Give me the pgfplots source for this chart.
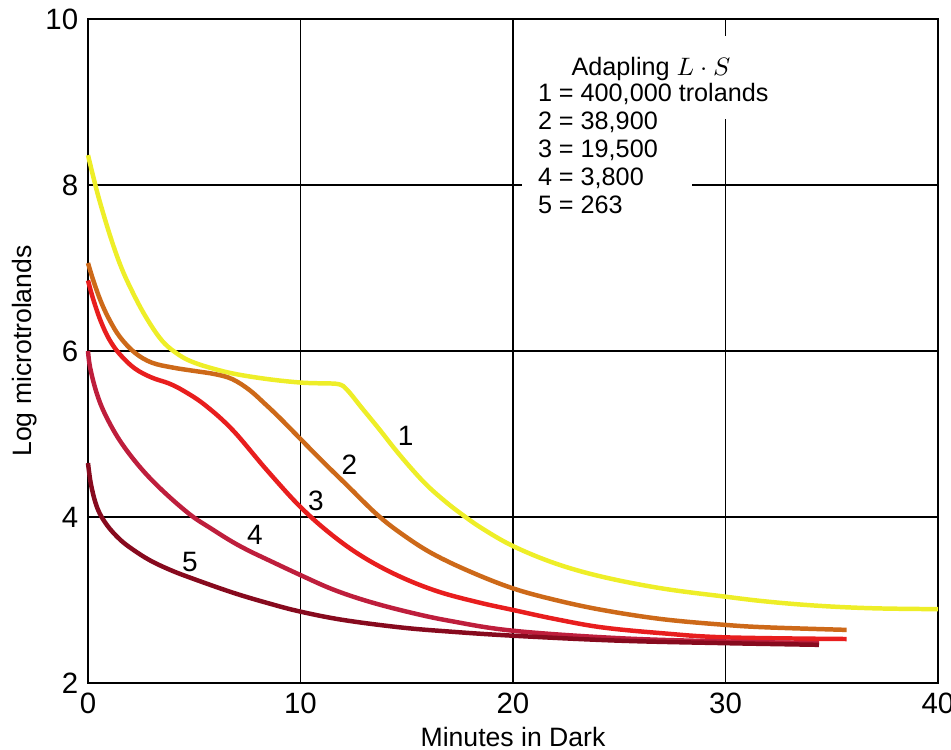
\documentclass[border=0pt]{standalone}
\usepackage{fontspec}
\setmainfont{Liberation Sans}
\usepackage{pgfplots}
\pgfplotsset{compat=1.18}
\definecolor{c1}{RGB}{238,238,40}
\definecolor{c2}{RGB}{205,105,25}
\definecolor{c3}{RGB}{232,30,30}
\definecolor{c4}{RGB}{190,30,60}
\definecolor{c5}{RGB}{135,10,30}
\begin{document}
\begin{tikzpicture}
\useasboundingbox (-31.43pt,-23.57pt) rectangle (308.21pt,243.93pt);
\begin{axis}[
  at={(0,0)}, anchor=south west,
  scale only axis, width=303.57pt, height=237.14pt,
  xmin=0, xmax=40, ymin=2, ymax=10,
  xtick={0,10,20,30,40}, ytick={2,4,6,8,10},
  major tick length=0pt,
  grid=major, grid style={black, line width=0.65pt},
  axis line style={black, line width=0.9pt},
  /pgf/number format/assume math mode=true,
  tick label style={font=\fontsize{10.5}{12}\selectfont},
  xlabel={Minutes in Dark}, ylabel={Log microtrolands},
  label style={font=\fontsize{9.5}{11}\selectfont},
  xlabel style={yshift=2pt},
  ylabel style={yshift=-4pt},
  clip=false,
]
\fill[white] (axis cs:20.4,7.75) rectangle (axis cs:28.4,9.8);
\fill[white] (axis cs:28.4,8.8) rectangle (axis cs:32.8,9.8);
\node[anchor=north west, align=left, inner sep=0pt, font=\fontsize{9}{10}\selectfont] at (axis cs:21.15,9.55)
 {\hspace*{12pt}Adapling $L\cdot S$\\[-0.5pt] 1 = 400,000 trolands\\ 2 = 38,900\\ 3 = 19,500\\ 4 = 3,800\\ 5 = 263};
\addplot[c1, line width=1.6pt, smooth, tension=0.6] coordinates {
(0,8.36)(0.2,8.15)(0.5,7.85)(1,7.42)(1.5,7.05)(2,6.76)(2.7,6.42)(3.5,6.12)(4.3,5.95)(5,5.86)(6,5.78)(7,5.72)(8.5,5.66)(10,5.62)(11,5.61)(11.8,5.6)(12.2,5.53)(12.9,5.31)(13.7,5.06)(14.5,4.8)(15.3,4.56)(16,4.37)(16.8,4.19)(17.5,4.05)(18.5,3.87)(20,3.65)(22,3.44)(24.2,3.28)(27,3.14)(30,3.04)(32,2.98)(34.4,2.93)(37,2.9)(40,2.89)};
\addplot[c2, line width=1.6pt, smooth, tension=0.6] coordinates {
(0,7.06)(0.25,6.85)(0.6,6.6)(1,6.38)(1.5,6.17)(2.2,5.98)(3,5.86)(4,5.8)(5,5.76)(6,5.72)(6.8,5.66)(7.6,5.53)(8.3,5.37)(9,5.2)(10,4.94)(11,4.68)(12.2,4.38)(13.6,4.03)(14.8,3.79)(16.2,3.56)(18,3.34)(20,3.14)(22,3.0)(24.2,2.88)(27,2.77)(30,2.70)(32,2.67)(35.7,2.64)};
\addplot[c3, line width=1.6pt, smooth, tension=0.6] coordinates {
(0,6.85)(0.25,6.62)(0.6,6.36)(1,6.14)(1.5,5.96)(2.2,5.79)(3,5.68)(3.8,5.61)(4.5,5.52)(5.5,5.35)(6.8,5.05)(8.4,4.57)(10,4.12)(11.5,3.78)(13,3.51)(14.7,3.28)(16.5,3.1)(18.4,2.97)(20,2.88)(22,2.77)(24.2,2.67)(27,2.6)(30,2.55)(35.7,2.53)};
\addplot[c4, line width=1.6pt, smooth, tension=0.6] coordinates {
(0,6.0)(0.1,5.8)(0.4,5.5)(0.8,5.24)(1.5,4.92)(2.45,4.6)(3.5,4.32)(4.8,4.03)(5.8,3.86)(6.8,3.7)(7.6,3.59)(8.5,3.48)(10,3.3)(11.5,3.13)(13.1,2.99)(15,2.86)(17,2.75)(20,2.63)(25,2.54)(30,2.5)(34.4,2.48)};
\addplot[c5, line width=1.6pt, smooth, tension=0.6] coordinates {
(0,4.65)(0.15,4.38)(0.45,4.1)(0.9,3.9)(1.5,3.73)(2.1,3.61)(2.9,3.48)(3.8,3.37)(4.8,3.27)(6.8,3.09)(8.5,2.96)(10,2.86)(12,2.76)(14.7,2.67)(17,2.62)(20,2.57)(25,2.51)(30,2.48)(34.4,2.46)};
\node[font=\fontsize{10}{12}\selectfont] at (axis cs:14.95,4.98) {1};
\node[font=\fontsize{10}{12}\selectfont] at (axis cs:12.3,4.63) {2};
\node[font=\fontsize{10}{12}\selectfont] at (axis cs:10.73,4.2) {3};
\node[font=\fontsize{10}{12}\selectfont] at (axis cs:7.86,3.78) {4};
\node[font=\fontsize{10}{12}\selectfont] at (axis cs:4.8,3.46) {5};
\end{axis}
\end{tikzpicture}
\end{document}
